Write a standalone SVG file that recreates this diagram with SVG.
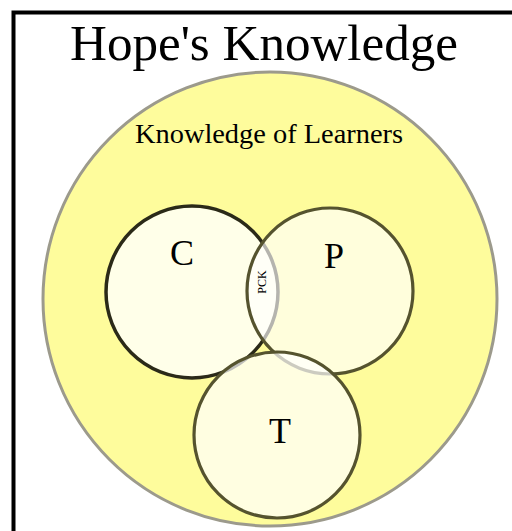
<svg xmlns="http://www.w3.org/2000/svg" width="512" height="531" viewBox="0 0 512 531">
<style>
.serif{font-family:"Liberation Serif","Times New Roman",serif;fill:#000}
.inner{fill:#ffffff}
</style>
<rect x="0" y="0" width="512" height="531" fill="#ffffff"/>
<g id="frame"><path d="M13.5 531 V12.5 H512" fill="none" stroke="#000" stroke-width="4"/></g>
<g id="title"><text class="serif" x="264" y="60" font-size="51" text-anchor="middle" textLength="388" lengthAdjust="spacingAndGlyphs">Hope's Knowledge</text></g>
<g id="learners">
<circle cx="270" cy="299" r="227" fill="#fefc9c" stroke="#9c9a8c" stroke-width="3"/>
<text class="serif" x="269" y="143" font-size="27" text-anchor="middle" textLength="268" lengthAdjust="spacingAndGlyphs">Knowledge of Learners</text>
</g>
<g id="C">
<circle cx="192" cy="292" r="86" class="inner" fill-opacity="0.78" stroke="#2b2a18" stroke-width="3.5"/>
<text class="serif" x="182" y="265" font-size="36" text-anchor="middle">C</text>
</g>
<g id="P">
<circle cx="330" cy="291" r="83" class="inner" fill-opacity="0.65" stroke="#55532e" stroke-width="3.2"/>
<text class="serif" x="334" y="268" font-size="36" text-anchor="middle">P</text>
</g>
<g id="T">
<circle cx="277" cy="435" r="83" class="inner" fill-opacity="0.7" stroke="#55532e" stroke-width="3.2"/>
<text class="serif" x="280" y="443" font-size="36" text-anchor="middle">T</text>
</g>
<g id="PCK"><text class="serif" font-size="12" text-anchor="middle" transform="translate(266 282) rotate(-90)">PCK</text></g>
<g id="connectors"></g>
</svg>
